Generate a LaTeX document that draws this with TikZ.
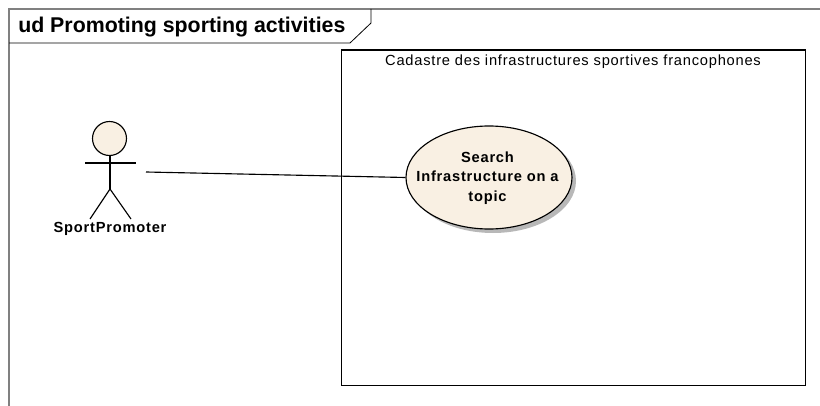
\documentclass[tikz,border=0pt]{standalone}
\usepackage{fontspec}
\setmainfont{Liberation Sans}
\newfontfamily\spacedfont[LetterSpace=5.3]{Liberation Sans}
\usetikzlibrary{shapes.geometric}
\definecolor{fillc}{RGB}{249,240,227}
\tikzset{
  px/.style={x=0.75pt,y=-0.75pt},
  ln/.style={draw=black,line width=0.85pt},
  frameln/.style={draw=black!50,line width=1.1pt},
  lab/.style={inner sep=0pt,align=center,font=\spacedfont\fontsize{11pt}{14.6pt}\selectfont\bfseries},
}
\begin{document}
\begin{tikzpicture}[px]
\useasboundingbox (0,0) rectangle (820,406);
% frame
\draw[frameln] (9,406) -- (9,9) -- (820,9);
\draw[draw=black,line width=0.6pt] (9,43) -- (350,43) -- (371,23) -- (371,9);
\node[anchor=base west,inner sep=0pt,font=\fontsize{16pt}{18pt}\selectfont\bfseries] (title) at (18,32.5) {ud Promoting sporting activities};
% system boundary
\node[draw=black,line width=1pt,inner sep=0pt,anchor=north west,minimum width=0.75*464pt,minimum height=0.75*335pt] (sys) at (341,49.5) {};
\node[anchor=base,inner sep=0pt,font=\spacedfont\fontsize{11pt}{12pt}\selectfont] (systitle) at (573,66) {Cadastre des infrastructures sportives francophones};
% use case
\fill[black!28] (493,181) ellipse [x radius=83,y radius=52];
\node[draw=black,fill=fillc,ellipse,line width=0.85pt,minimum width=0.75*166pt,minimum height=0.75*103pt,inner sep=0pt] (uc) at (489,177.5) {};
\node[lab] (uctext) at (487.5,178) {Search\\Infrastructure on a\\topic};
% actor
\draw[ln,fill=fillc] (109.5,138.5) circle [radius=17];
\draw[ln] (110,155) -- (110,189);
\draw[ln] (85,163) -- (136,163);
\draw[ln] (110,189) -- (90,219);
\draw[ln] (110,189) -- (131,219);
\node[lab] (actorlabel) at (110,229) {SportPromoter};
\coordinate (actorend) at (146,172);
\draw[ln] (actorend) -- (uc.west);
\end{tikzpicture}
\end{document}
